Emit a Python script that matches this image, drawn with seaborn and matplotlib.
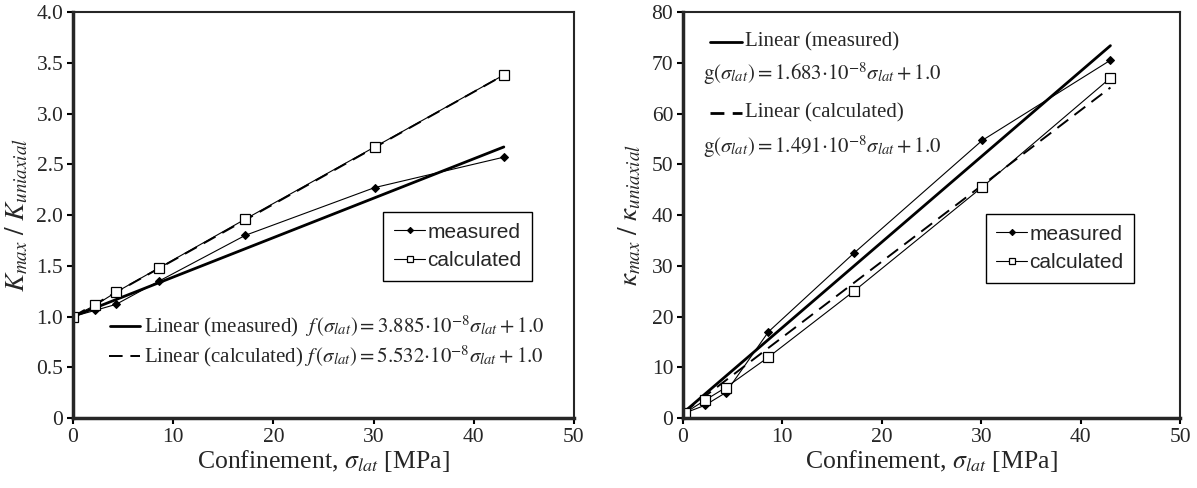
import numpy as np
import pandas as pd
import matplotlib
matplotlib.use("Agg")
import matplotlib.pyplot as plt
import seaborn as sns

# confinement levels [MPa]
sigma_lat = [0.0, 2.2, 4.3, 8.6, 17.2, 30.1, 43.0]

# left panel: K_max / K_uniaxial
k_measured = [1.00, 1.06, 1.12, 1.35, 1.80, 2.27, 2.57]
k_calculated = [1.00, 1.11, 1.24, 1.48, 1.96, 2.67, 3.38]
k_slopes = [3.885, 5.532]          # x 10^-8 per Pa -> x 10^-2 per MPa

# right panel: kappa_max / kappa_uniaxial
kap_measured = [1.0, 2.5, 5.0, 17.0, 32.5, 54.7, 70.5]
kap_calculated = [1.0, 3.5, 6.0, 12.0, 25.0, 45.5, 67.0]
kap_slopes = [1.683, 1.491]        # x 10^-8 per Pa -> per MPa

sns.set_style("ticks")
plt.rcParams["font.family"] = ["Liberation Serif", "DejaVu Serif"]
plt.rcParams["mathtext.fontset"] = "stix"
plt.rcParams["axes.linewidth"] = 1.5
plt.rcParams["xtick.major.width"] = 1.5
plt.rcParams["ytick.major.width"] = 1.5
plt.rcParams["xtick.major.size"] = 4
plt.rcParams["ytick.major.size"] = 4

fig = plt.figure(figsize=(11.97, 4.88), dpi=100)
ax1 = fig.add_axes([0.061, 0.1434, 0.4185, 0.832])
ax2 = fig.add_axes([0.5706, 0.1434, 0.4152, 0.832])

df1 = pd.DataFrame({"x": sigma_lat, "measured": k_measured, "calculated": k_calculated})
df2 = pd.DataFrame({"x": sigma_lat, "measured": kap_measured, "calculated": kap_calculated})
df2.loc[0, "x"] = 0.2


def panel(ax, df, slopes, scale):
    xfit = np.array([0.0, 43.0])
    ax.plot(xfit, 1.0 + slopes[0] * scale * xfit, color="black", lw=2.0)
    ax.plot(xfit, 1.0 + slopes[1] * scale * xfit, color="black", lw=1.4,
            dashes=(7, 4))
    sns.lineplot(data=df, x="x", y="measured", ax=ax, color="black", lw=0.8,
                 marker="D", markersize=4.5, markeredgecolor="black",
                 markerfacecolor="black", label="measured")
    sns.lineplot(data=df, x="x", y="calculated", ax=ax, color="black", lw=0.8,
                 marker="s", markersize=7, markeredgecolor="black",
                 markerfacecolor="white", markeredgewidth=0.9, label="calculated")
    ax.set_xlim(0, 50)
    ax.set_xticks(range(0, 51, 10))
    ax.tick_params(labelsize=15.5, direction="out", color="black", pad=3)
    for s in ["left", "bottom"]:
        ax.spines[s].set_linewidth(2.5)
    ax.set_xlabel(r"Confinement, $\sigma_{lat}$ [MPa]", fontsize=18.5, labelpad=1)


def legend(ax, anchor):
    leg = ax.legend(loc="lower left", bbox_to_anchor=anchor, frameon=True,
                    fancybox=False, edgecolor="black", framealpha=1,
                    handlelength=1.5, handletextpad=0.1, borderpad=0.5,
                    labelspacing=0.45, markerscale=0.7,
                    prop={"family": "Liberation Sans", "size": 15})
    leg.get_frame().set_linewidth(1.0)


panel(ax1, df1, k_slopes, 1e-2)
ax1.set_ylim(0, 4.0)
ax1.set_yticks(np.arange(0, 4.01, 0.5))
ax1.set_yticklabels(["0"] + [f"{v:.1f}" for v in np.arange(0.5, 4.01, 0.5)])
ax1.set_ylabel(r"$K_{max}\ /\ K_{uniaxial}$", fontsize=19.5, labelpad=4)
legend(ax1, (0.599, 0.313))

panel(ax2, df2, kap_slopes, 1.0)
ax2.set_ylim(0, 80)
ax2.set_yticks(range(0, 81, 10))
ax2.set_ylabel(r"$\kappa_{max}\ /\ \kappa_{uniaxial}$", fontsize=19.5, labelpad=6)
legend(ax2, (0.588, 0.308))

# trend-line captions, left
t = ax1.transAxes
ax1.plot([0.074, 0.134], [0.227, 0.227], color="black", lw=2.0, transform=t)
ax1.plot([0.072, 0.134], [0.153, 0.153], color="black", lw=1.4, dashes=(7, 4), transform=t)
ax1.text(0.142, 0.227, r"Linear (measured)  $f\,(\sigma_{lat}) = 3.885{\cdot}10^{-8}\sigma_{lat} + 1.0$",
         transform=t, fontsize=15, va="center")
ax1.text(0.142, 0.153, r"Linear (calculated) $f\,(\sigma_{lat}) = 5.532{\cdot}10^{-8}\sigma_{lat} + 1.0$",
         transform=t, fontsize=15, va="center")

# trend-line captions, right
t = ax2.transAxes
ax2.plot([0.054, 0.119], [0.926, 0.926], color="black", lw=2.0, transform=t)
ax2.plot([0.054, 0.119], [0.751, 0.751], color="black", lw=2.0, dashes=(5, 3), transform=t)
ax2.text(0.125, 0.926, "Linear (measured)", transform=t, fontsize=15, va="center")
ax2.text(0.04, 0.847, r"$\mathrm{g}(\sigma_{lat}) = 1.683{\cdot}10^{-8}\sigma_{lat} + 1.0$",
         transform=t, fontsize=15, va="center")
ax2.text(0.125, 0.751, "Linear (calculated)", transform=t, fontsize=15, va="center")
ax2.text(0.04, 0.667, r"$\mathrm{g}(\sigma_{lat}) = 1.491{\cdot}10^{-8}\sigma_{lat} + 1.0$",
         transform=t, fontsize=15, va="center")

fig.savefig("out.png", dpi=100)
